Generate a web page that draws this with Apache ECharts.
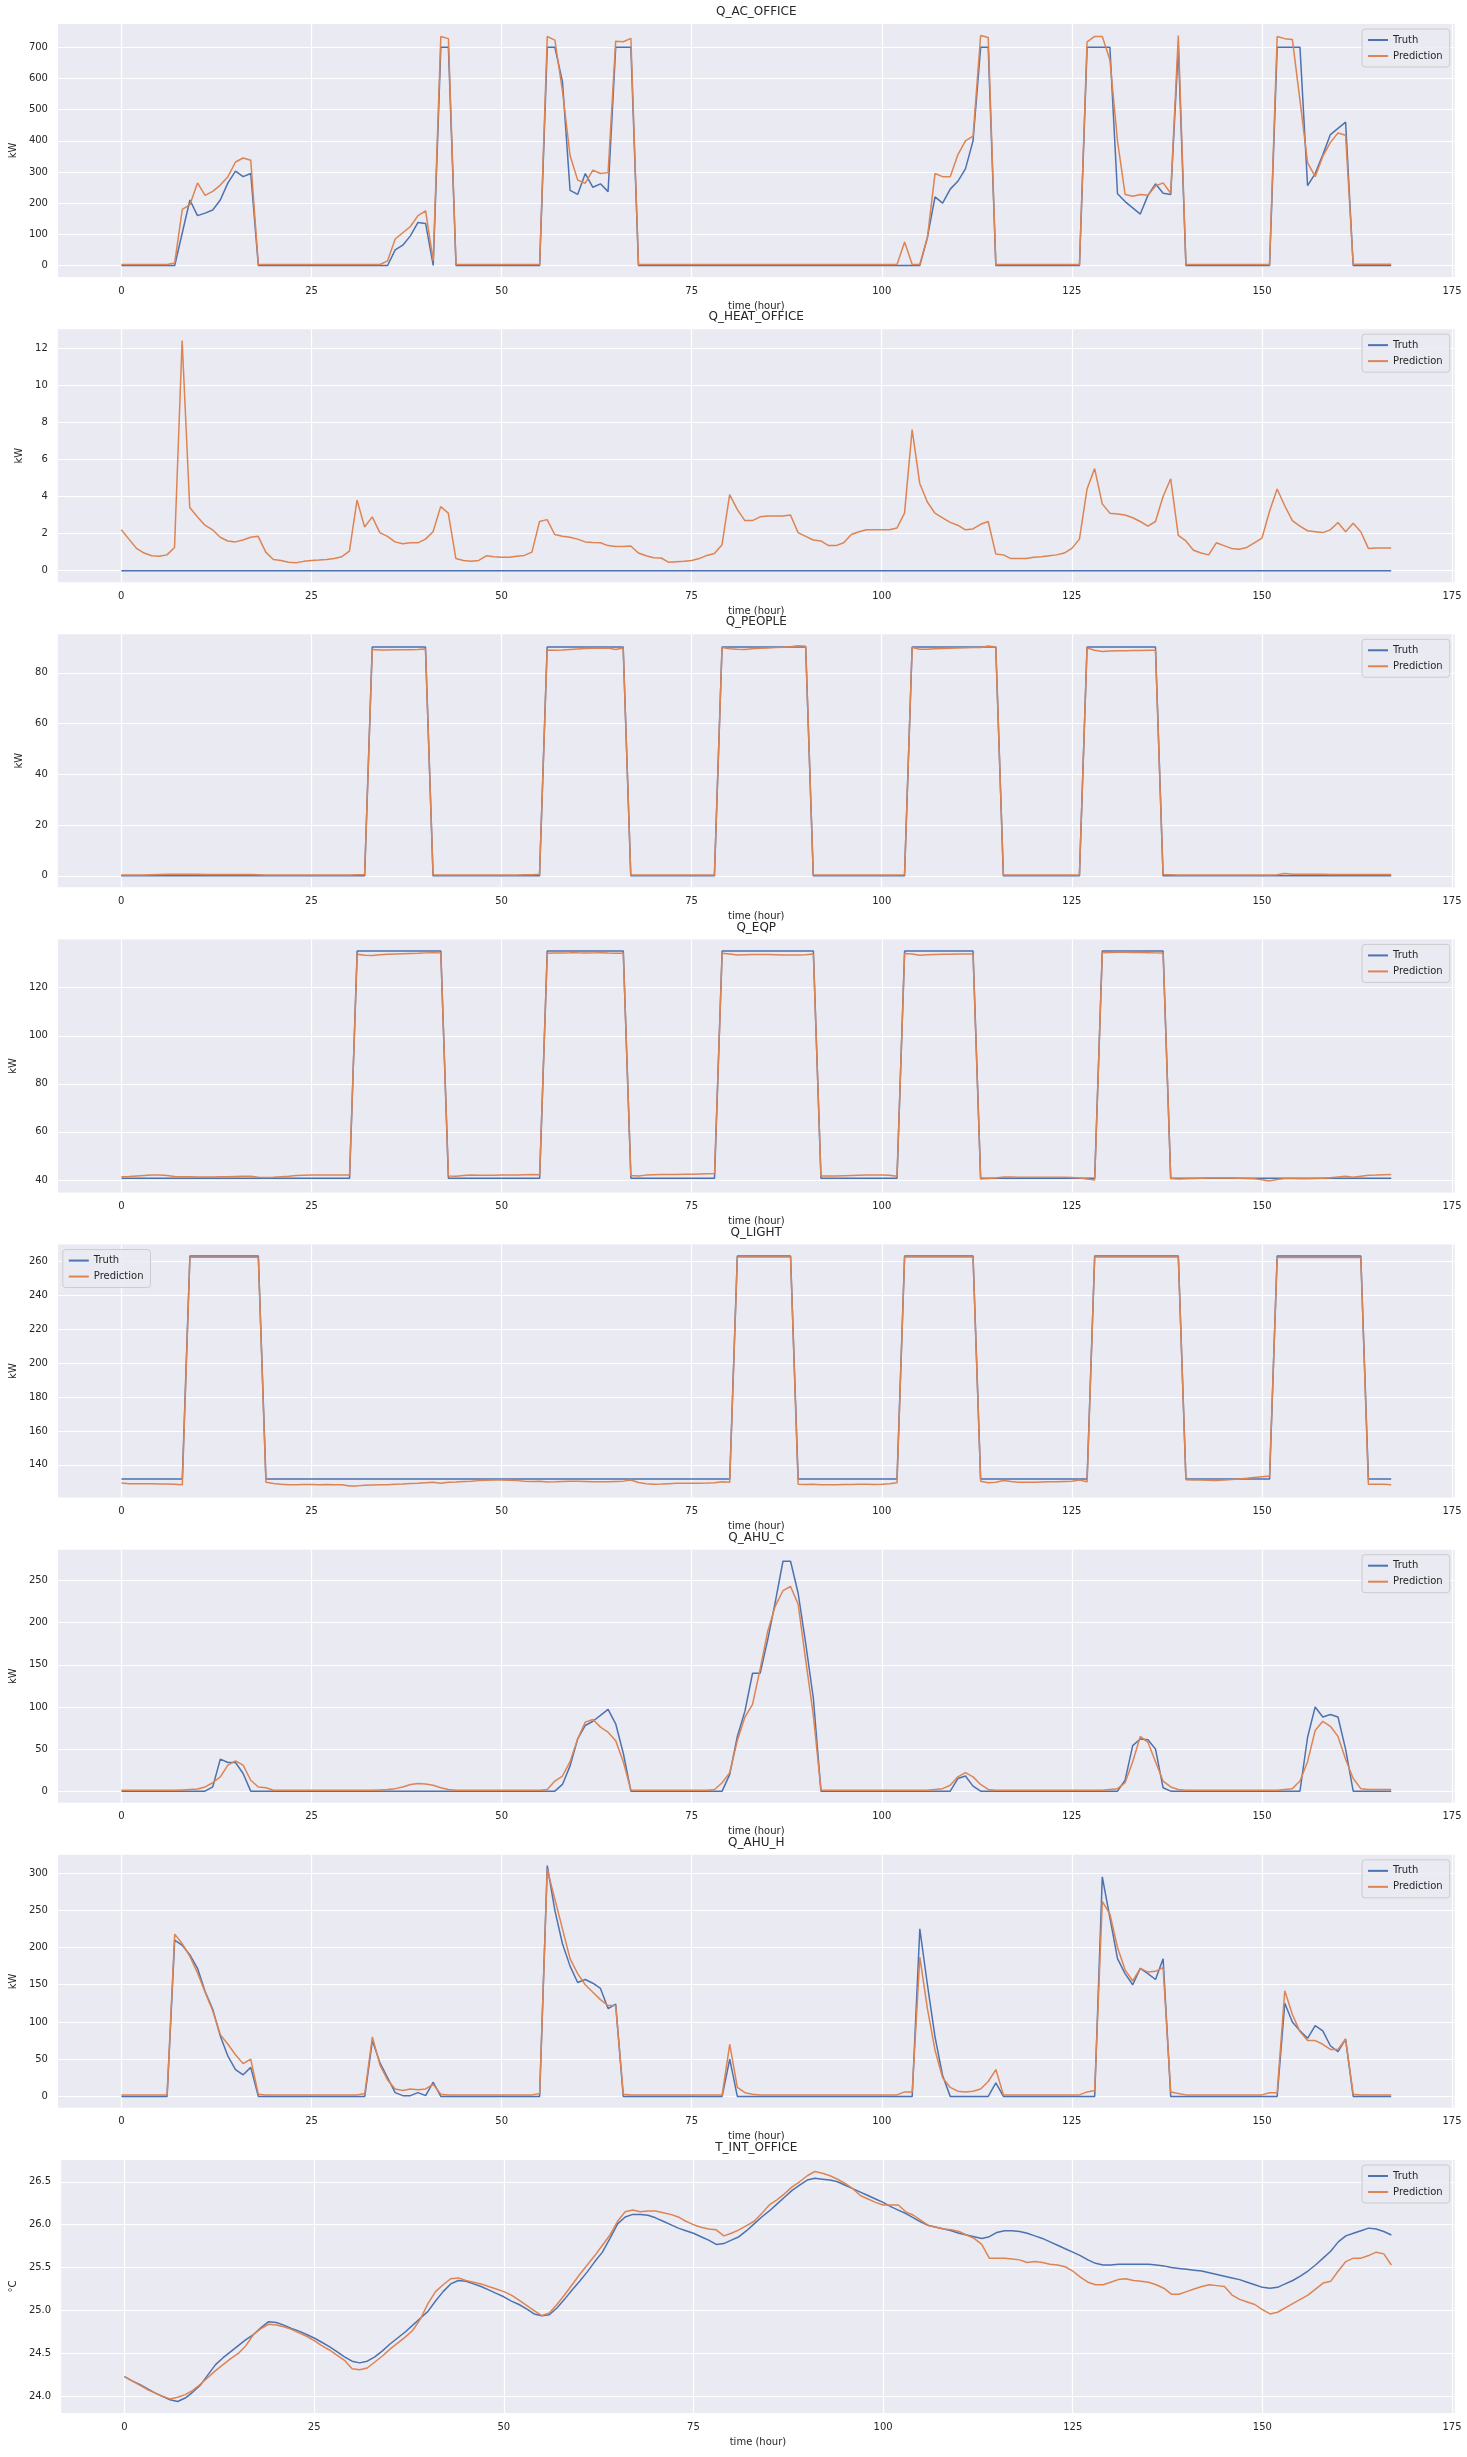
<!DOCTYPE html>
<html><head><meta charset="utf-8">
<script src="https://cdn.jsdelivr.net/npm/echarts@6/dist/echarts.min.js"></script>
<style>html,body{margin:0;padding:0;background:#fff}#c{width:1467px;height:2457px}</style>
</head><body><div id="c"></div>
<script>
// ---------- data ----------
const xTicks = [0, 25, 50, 75, 100, 125, 150, 175];

const acTruth = [
0,0,0,0,0,0,0,0,105,210,160,168,
178,210,265,303,285,295,0,0,0,0,0,0,
0,0,0,0,0,0,0,0,0,0,0,0,
50,65,95,138,135,0,700,700,0,0,0,0,
0,0,0,0,0,0,0,0,700,700,590,241,
228,295,251,262,237,700,700,700,0,0,0,0,
0,0,0,0,0,0,0,0,0,0,0,0,
0,0,0,0,0,0,0,0,0,0,0,0,
0,0,0,0,0,0,0,0,0,0,90,220,
200,245,270,310,400,700,700,0,0,0,0,0,
0,0,0,0,0,0,0,700,700,700,700,230,
205,185,165,225,262,232,228,700,0,0,0,0,
0,0,0,0,0,0,0,0,700,700,700,700,
256,295,355,420,440,460,0,0,0,0,0,0];
const acPred = [
3,3,3,3,3,3,3,8,180,195,265,225,
238,258,285,332,345,338,3,3,3,3,3,3,
3,3,3,3,3,3,3,3,3,3,3,15,
85,105,125,160,175,15,735,728,3,3,3,3,
3,3,3,3,3,3,3,3,735,723,560,353,
274,264,306,295,298,720,718,729,3,3,3,3,
3,3,3,3,3,3,3,3,3,3,3,3,
3,3,3,3,3,3,3,3,3,3,3,3,
3,3,3,3,3,3,3,75,3,3,90,295,
285,285,355,400,415,738,732,3,3,3,3,3,
3,3,3,3,3,3,3,718,735,735,660,400,
228,222,228,225,255,265,232,738,3,3,3,3,
3,3,3,3,3,3,3,3,735,728,725,530,
330,285,350,395,425,418,4,4,4,4,4,4];

const heatTruth = [
0,0,0,0,0,0,0,0,0,0,0,0,
0,0,0,0,0,0,0,0,0,0,0,0,
0,0,0,0,0,0,0,0,0,0,0,0,
0,0,0,0,0,0,0,0,0,0,0,0,
0,0,0,0,0,0,0,0,0,0,0,0,
0,0,0,0,0,0,0,0,0,0,0,0,
0,0,0,0,0,0,0,0,0,0,0,0,
0,0,0,0,0,0,0,0,0,0,0,0,
0,0,0,0,0,0,0,0,0,0,0,0,
0,0,0,0,0,0,0,0,0,0,0,0,
0,0,0,0,0,0,0,0,0,0,0,0,
0,0,0,0,0,0,0,0,0,0,0,0,
0,0,0,0,0,0,0,0,0,0,0,0,
0,0,0,0,0,0,0,0,0,0,0,0];
const heatPred = [
2.2,1.7,1.2,0.95,0.8,0.78,0.85,1.25,12.4,3.4,2.9,2.45,
2.2,1.8,1.6,1.55,1.65,1.8,1.85,1.0,0.6,0.55,0.45,0.42,
0.5,0.55,0.57,0.6,0.65,0.75,1.05,3.8,2.35,2.9,2.05,1.85,
1.55,1.45,1.5,1.5,1.7,2.1,3.45,3.1,0.65,0.55,0.5,0.55,
0.8,0.75,0.72,0.72,0.78,0.82,1.0,2.65,2.75,1.95,1.85,1.8,
1.7,1.55,1.52,1.5,1.35,1.3,1.3,1.33,0.95,0.8,0.7,0.68,
0.45,0.48,0.5,0.55,0.65,0.82,0.92,1.4,4.1,3.3,2.7,2.7,
2.9,2.95,2.95,2.95,3.0,2.05,1.85,1.65,1.6,1.35,1.35,1.5,
1.95,2.1,2.2,2.2,2.2,2.2,2.3,3.1,7.6,4.7,3.7,3.1,
2.85,2.6,2.45,2.2,2.25,2.5,2.65,0.9,0.85,0.65,0.65,0.65,
0.72,0.75,0.8,0.85,0.95,1.2,1.7,4.4,5.5,3.6,3.1,3.05,
3.0,2.85,2.65,2.4,2.65,4.0,4.95,1.9,1.6,1.1,0.95,0.85,
1.5,1.35,1.2,1.15,1.25,1.5,1.75,3.2,4.4,3.5,2.7,2.4,
2.15,2.1,2.05,2.2,2.6,2.1,2.55,2.1,1.2,1.22,1.22,1.22];

const peopleTruth = [
0,0,0,0,0,0,0,0,0,0,0,0,
0,0,0,0,0,0,0,0,0,0,0,0,
0,0,0,0,0,0,0,0,0,90.2,90.2,90.2,
90.2,90.2,90.2,90.2,90.2,0,0,0,0,0,0,0,
0,0,0,0,0,0,0,0,90.2,90.2,90.2,90.2,
90.2,90.2,90.2,90.2,90.2,90.2,90.2,0,0,0,0,0,
0,0,0,0,0,0,0,90.2,90.2,90.2,90.2,90.2,
90.2,90.2,90.2,90.2,90.2,90.2,90.2,0,0,0,0,0,
0,0,0,0,0,0,0,0,90.2,90.2,90.2,90.2,
90.2,90.2,90.2,90.2,90.2,90.2,90.2,90.2,0,0,0,0,
0,0,0,0,0,0,0,90.2,90.2,90.2,90.2,90.2,
90.2,90.2,90.2,90.2,90.2,0,0,0,0,0,0,0,
0,0,0,0,0,0,0,0,0,0,0,0,
0,0,0,0,0,0,0,0,0,0,0,0];
const peoplePred = [
0.3,0.3,0.3,0.3,0.4,0.5,0.6,0.6,0.6,0.6,0.6,0.5,
0.5,0.5,0.5,0.5,0.5,0.5,0.4,0.3,0.3,0.3,0.3,0.3,
0.3,0.3,0.3,0.3,0.3,0.3,0.3,0.4,0.5,89.2,89.0,89.0,
89.1,89.1,89.1,89.2,89.4,0.4,0.3,0.3,0.3,0.3,0.3,0.3,
0.3,0.3,0.3,0.3,0.3,0.4,0.4,0.6,89.0,88.9,89.0,89.2,
89.4,89.6,89.7,89.7,89.8,89.2,89.8,0.3,0.3,0.3,0.3,0.3,
0.3,0.3,0.3,0.3,0.3,0.3,0.3,90.0,89.5,89.3,89.2,89.5,
89.7,89.8,90.0,90.1,90.3,90.7,90.5,0.3,0.3,0.3,0.3,0.3,
0.3,0.3,0.3,0.3,0.3,0.3,0.3,0.4,90.0,89.3,89.3,89.5,
89.6,89.7,89.8,89.9,90.0,90.0,90.6,90.2,0.3,0.3,0.3,0.3,
0.3,0.3,0.3,0.3,0.3,0.3,0.3,89.8,88.9,88.4,88.6,88.7,
88.7,88.8,88.8,88.9,88.9,0.5,0.4,0.3,0.3,0.3,0.3,0.3,
0.3,0.3,0.3,0.3,0.3,0.3,0.3,0.3,0.4,0.9,0.6,0.6,
0.6,0.6,0.6,0.5,0.5,0.5,0.5,0.5,0.5,0.5,0.5,0.5];

const eqpTruth = [
40.7,40.7,40.7,40.7,40.7,40.7,40.7,40.7,40.7,40.7,40.7,40.7,
40.7,40.7,40.7,40.7,40.7,40.7,40.7,40.7,40.7,40.7,40.7,40.7,
40.7,40.7,40.7,40.7,40.7,40.7,40.7,135.3,135.3,135.3,135.3,135.3,
135.3,135.3,135.3,135.3,135.3,135.3,135.3,40.7,40.7,40.7,40.7,40.7,
40.7,40.7,40.7,40.7,40.7,40.7,40.7,40.7,135.3,135.3,135.3,135.3,
135.3,135.3,135.3,135.3,135.3,135.3,135.3,40.7,40.7,40.7,40.7,40.7,
40.7,40.7,40.7,40.7,40.7,40.7,40.7,135.3,135.3,135.3,135.3,135.3,
135.3,135.3,135.3,135.3,135.3,135.3,135.3,135.3,40.7,40.7,40.7,40.7,
40.7,40.7,40.7,40.7,40.7,40.7,40.7,135.3,135.3,135.3,135.3,135.3,
135.3,135.3,135.3,135.3,135.3,40.7,40.7,40.7,40.7,40.7,40.7,40.7,
40.7,40.7,40.7,40.7,40.7,40.7,40.7,40.7,40.7,135.3,135.3,135.3,
135.3,135.3,135.3,135.3,135.3,135.3,40.7,40.7,40.7,40.7,40.7,40.7,
40.7,40.7,40.7,40.7,40.7,40.7,40.7,40.7,40.7,40.7,40.7,40.7,
40.7,40.7,40.7,40.7,40.7,40.7,40.7,40.7,40.7,40.7,40.7,40.7];
const eqpPred = [
41.3,41.4,41.6,41.8,42.0,42.0,41.8,41.4,41.3,41.3,41.2,41.2,
41.2,41.3,41.3,41.4,41.5,41.5,41.1,41.0,41.1,41.3,41.5,41.8,
41.9,42.0,42.0,42.0,42.0,42.1,42.1,133.9,133.5,133.4,133.7,133.9,
134.0,134.1,134.2,134.3,134.5,134.6,134.5,41.6,41.5,41.8,42.0,41.9,
41.9,41.9,42.0,42.0,42.1,42.2,42.3,42.2,134.3,134.4,134.4,134.5,
134.5,134.4,134.5,134.6,134.4,134.3,134.3,41.8,41.6,42.0,42.2,42.3,
42.3,42.3,42.4,42.4,42.5,42.6,42.7,134.3,134.0,133.6,133.7,133.8,
133.8,133.8,133.7,133.6,133.6,133.6,133.7,134.0,41.6,41.6,41.6,41.7,
41.8,41.9,42.0,42.1,42.1,41.9,41.5,134.2,134.0,133.5,133.7,133.8,
133.9,133.9,134.0,134.0,134.0,40.4,40.6,40.8,41.2,41.2,41.1,41.1,
41.1,41.1,41.1,41.1,41.1,41.0,40.8,40.4,40.0,134.5,134.7,134.8,
134.8,134.7,134.7,134.6,134.5,134.4,40.6,40.4,40.5,40.6,40.7,40.8,
40.8,40.9,40.8,40.7,40.6,40.5,40.1,39.6,40.2,40.6,40.6,40.5,
40.5,40.6,40.7,40.9,41.2,41.5,41.1,41.5,41.9,42.0,42.2,42.3];

const lightTruth = [
131.6,131.6,131.6,131.6,131.6,131.6,131.6,131.6,131.6,263.3,263.3,263.3,
263.3,263.3,263.3,263.3,263.3,263.3,263.3,131.6,131.6,131.6,131.6,131.6,
131.6,131.6,131.6,131.6,131.6,131.6,131.6,131.6,131.6,131.6,131.6,131.6,
131.6,131.6,131.6,131.6,131.6,131.6,131.6,131.6,131.6,131.6,131.6,131.6,
131.6,131.6,131.6,131.6,131.6,131.6,131.6,131.6,131.6,131.6,131.6,131.6,
131.6,131.6,131.6,131.6,131.6,131.6,131.6,131.6,131.6,131.6,131.6,131.6,
131.6,131.6,131.6,131.6,131.6,131.6,131.6,131.6,131.6,263.3,263.3,263.3,
263.3,263.3,263.3,263.3,263.3,131.6,131.6,131.6,131.6,131.6,131.6,131.6,
131.6,131.6,131.6,131.6,131.6,131.6,131.6,263.3,263.3,263.3,263.3,263.3,
263.3,263.3,263.3,263.3,263.3,131.6,131.6,131.6,131.6,131.6,131.6,131.6,
131.6,131.6,131.6,131.6,131.6,131.6,131.6,131.6,263.3,263.3,263.3,263.3,
263.3,263.3,263.3,263.3,263.3,263.3,263.3,263.3,131.6,131.6,131.6,131.6,
131.6,131.6,131.6,131.6,131.6,131.6,131.6,131.6,263.3,263.3,263.3,263.3,
263.3,263.3,263.3,263.3,263.3,263.3,263.3,263.3,131.6,131.6,131.6,131.6];
const lightPred = [
129.3,128.8,128.9,128.9,128.8,128.7,128.7,128.6,128.2,262.6,262.6,262.6,
262.6,262.6,262.6,262.6,262.6,262.6,262.6,129.8,129.0,128.5,128.2,128.3,
128.4,128.4,128.3,128.4,128.3,128.2,127.5,127.6,127.9,128.1,128.2,128.3,
128.5,128.7,129.0,129.2,129.5,129.7,129.2,129.7,129.9,130.2,130.4,130.7,
130.9,131.0,131.0,130.9,130.7,130.4,130.2,130.4,129.9,130.0,130.2,130.3,
130.3,130.2,130.1,130.0,130.0,130.2,130.4,131.1,129.6,128.9,128.6,128.7,
128.9,129.1,129.1,129.2,129.2,129.3,129.5,130.0,129.7,262.7,262.7,262.7,
262.7,262.7,262.7,262.7,262.7,128.6,128.4,128.5,128.3,128.2,128.3,128.4,
128.4,128.5,128.5,128.4,128.6,128.9,129.5,262.7,262.7,262.7,262.7,262.7,
262.7,262.7,262.7,262.7,262.7,130.3,129.5,129.7,130.8,130.2,129.8,129.7,
129.8,129.9,130.0,130.1,130.2,130.3,131.0,130.0,262.7,262.7,262.7,262.7,
262.7,262.7,262.7,262.7,262.7,262.7,262.7,262.7,131.2,131.1,131.0,130.9,
130.8,131.0,131.3,131.7,132.1,132.6,133.0,133.4,262.5,262.5,262.5,262.5,
262.5,262.5,262.5,262.5,262.5,262.5,262.5,262.5,128.5,128.6,128.5,128.3];

const ahucTruth = [
0,0,0,0,0,0,0,0,0,0,0,0,
5,38,34,34,21,0,0,0,0,0,0,0,
0,0,0,0,0,0,0,0,0,0,0,0,
0,0,0,0,0,0,0,0,0,0,0,0,
0,0,0,0,0,0,0,0,0,0,8,30,
62,78,83,90,97,80,45,0,0,0,0,0,
0,0,0,0,0,0,0,0,20,65,95,140,
140,180,225,273,273,235,175,110,0,0,0,0,
0,0,0,0,0,0,0,0,0,0,0,0,
0,0,15,18,6,0,0,0,0,0,0,0,
0,0,0,0,0,0,0,0,0,0,0,0,
13,54,62,61,50,4,0,0,0,0,0,0,
0,0,0,0,0,0,0,0,0,0,0,0,
64,100,88,91,88,50,0,0,0,0,0,0];
const ahucPred = [
1,1,1,1,1,1,1,1,1.5,2,2.5,5,
10,17,31,36,31,13,5,4,1,1,1,1,
1,1,1,1,1,1,1,1,1,1,1.5,2,
3,5,8,9,8.5,7,4,2,1,1,1,1,
1,1,1,1,1,1,1,1,2,12,18,35,
62,82,85,76,70,60,35,1.5,1,1,1,1,
1,1,1,1,1,1,2,10,22,60,88,103,
145,190,220,238,243,222,155,90,1.5,1,1,1,
1,1,1,1,1,1,1,1,1,1,1,2,
3,7,17,22,17,8,2,1,1,1,1,1,
1,1,1,1,1,1,1,1,1,1,2,3,
10,35,65,58,35,12,5,2,1,1,1,1,
1,1,1,1,1,1,1,1,1,2,3,12,
35,72,83,77,65,38,15,3,2,2,2,2];

const ahuhTruth = [
0,0,0,0,0,0,0,210,203,190,172,141,
117,81,54,36,29,39,0,0,0,0,0,0,
0,0,0,0,0,0,0,0,0,75,45,25,
5,1,1,5,1,19,0,0,0,0,0,0,
0,0,0,0,0,0,0,0,310,250,205,175,
153,157,152,145,118,124,0,0,0,0,0,0,
0,0,0,0,0,0,0,0,50,0,0,0,
0,0,0,0,0,0,0,0,0,0,0,0,
0,0,0,0,0,0,0,0,0,225,150,80,
28,0,0,0,0,0,0,18,0,0,0,0,
0,0,0,0,0,0,0,0,0,295,240,185,
165,150,172,165,157,185,0,0,0,0,0,0,
0,0,0,0,0,0,0,0,0,125,100,88,
78,95,88,68,60,77,0,0,0,0,0,0];
const ahuhPred = [
2,2,2,2,2,2,2,218,205,188,166,140,
115,83,70,56,44,50,3,2,2,2,2,2,
2,2,2,2,2,2,2,2,4,80,42,22,
10,8,10,9,10,16,3,2,2,2,2,2,
2,2,2,2,2,2,2,4,305,265,225,185,
165,150,140,130,122,122,3,2,2,2,2,2,
2,2,2,2,2,2,2,2,70,12,5,3,
2,2,2,2,2,2,2,2,2,2,2,2,
2,2,2,2,2,2,2,6,6,187,118,62,
25,12,7,6,7,10,20,36,2,2,2,2,
2,2,2,2,2,2,2,6,8,262,245,200,
170,155,172,167,168,173,6,4,2,2,2,2,
2,2,2,2,2,2,2,5,5,142,110,87,
75,75,70,63,63,77,3,2,2,2,2,2];

const tintTruth = [
24.23,24.18,24.14,24.09,24.04,24.00,23.96,23.94,23.98,24.05,24.13,24.25,
24.37,24.45,24.52,24.59,24.66,24.72,24.80,24.87,24.86,24.83,24.79,24.76,
24.72,24.68,24.63,24.58,24.52,24.46,24.41,24.39,24.41,24.46,24.53,24.61,
24.68,24.75,24.83,24.91,24.99,25.11,25.22,25.31,25.35,25.34,25.31,25.28,
25.24,25.20,25.16,25.11,25.07,25.02,24.96,24.94,24.95,25.03,25.13,25.24,
25.34,25.45,25.57,25.68,25.84,26.01,26.09,26.12,26.12,26.11,26.08,26.04,
26.00,25.96,25.93,25.90,25.86,25.82,25.77,25.78,25.82,25.86,25.93,26.01,
26.09,26.16,26.24,26.32,26.40,26.46,26.52,26.54,26.53,26.52,26.50,26.46,
26.42,26.38,26.34,26.30,26.26,26.21,26.17,26.13,26.08,26.03,25.99,25.97,
25.95,25.93,25.90,25.88,25.86,25.84,25.86,25.91,25.93,25.93,25.92,25.90,
25.87,25.84,25.80,25.76,25.72,25.68,25.64,25.59,25.55,25.53,25.53,25.54,
25.54,25.54,25.54,25.54,25.53,25.52,25.50,25.49,25.48,25.47,25.46,25.44,
25.42,25.40,25.38,25.36,25.33,25.30,25.27,25.26,25.27,25.31,25.35,25.40,
25.46,25.53,25.61,25.69,25.80,25.87,25.90,25.93,25.96,25.95,25.92,25.88];
const tintPred = [
24.23,24.18,24.13,24.08,24.04,24.00,23.97,23.99,24.02,24.07,24.14,24.22,
24.30,24.37,24.44,24.50,24.59,24.72,24.79,24.84,24.83,24.81,24.78,24.74,
24.70,24.65,24.59,24.54,24.48,24.42,24.32,24.31,24.33,24.40,24.47,24.55,
24.62,24.69,24.77,24.90,25.08,25.22,25.30,25.37,25.38,25.35,25.33,25.31,
25.28,25.25,25.22,25.18,25.12,25.06,25.00,24.94,24.97,25.07,25.18,25.30,
25.42,25.53,25.64,25.76,25.88,26.04,26.15,26.17,26.15,26.16,26.16,26.14,
26.12,26.09,26.04,26.00,25.97,25.95,25.94,25.87,25.90,25.94,25.99,26.04,
26.13,26.23,26.29,26.36,26.44,26.50,26.57,26.62,26.60,26.57,26.53,26.48,
26.42,26.34,26.30,26.26,26.23,26.23,26.23,26.15,26.11,26.05,25.99,25.97,
25.95,25.94,25.92,25.88,25.84,25.77,25.61,25.61,25.61,25.60,25.59,25.56,
25.57,25.56,25.54,25.53,25.51,25.46,25.39,25.33,25.30,25.30,25.33,25.36,
25.37,25.35,25.34,25.33,25.30,25.26,25.19,25.19,25.22,25.25,25.28,25.30,
25.29,25.28,25.18,25.13,25.10,25.07,25.01,24.96,24.98,25.03,25.08,25.13,
25.18,25.25,25.32,25.34,25.46,25.57,25.61,25.61,25.64,25.68,25.66,25.53];

const acTicks = [0,100,200,300,400,500,600,700];
const heatTicks = [0,2,4,6,8,10,12];
const peopleTicks = [0,20,40,60,80];
const eqpTicks = [40,60,80,100,120];
const lightTicks = [140,160,180,200,220,240,260];
const ahucTicks = [0,50,100,150,200,250];
const ahuhTicks = [0,50,100,150,200,250,300];
const tintTicks = [24.0,24.5,25.0,25.5,26.0,26.5];

// ---------- layout / styling ----------
const panels = [
  {title:'Q_AC_OFFICE', truth:acTruth, pred:acPred, min:-37, max:775, ticks:acTicks, yName:'kW', gap:30},
  {title:'Q_HEAT_OFFICE', truth:heatTruth, pred:heatPred, min:-0.62, max:13.02, ticks:heatTicks, yName:'kW', gap:24},
  {title:'Q_PEOPLE', truth:peopleTruth, pred:peoplePred, min:-4.5, max:95.2, ticks:peopleTicks, yName:'kW', gap:24},
  {title:'Q_EQP', truth:eqpTruth, pred:eqpPred, min:34.8, max:140.1, ticks:eqpTicks, yName:'kW', gap:31},
  {title:'Q_LIGHT', truth:lightTruth, pred:lightPred, min:120.7, max:270.1, ticks:lightTicks, yName:'kW', gap:31, legendLeft:true},
  {title:'Q_AHU_C', truth:ahucTruth, pred:ahucPred, min:-13.7, max:286.7, ticks:ahucTicks, yName:'kW', gap:31},
  {title:'Q_AHU_H', truth:ahuhTruth, pred:ahuhPred, min:-15.4, max:324.5, ticks:ahuhTicks, yName:'kW', gap:31},
  {title:'T_INT_OFFICE', truth:tintTruth, pred:tintPred, min:23.806, max:26.754, ticks:tintTicks, yName:'°C', gap:37, fmt:1}
];

const FONT = 'DejaVu Sans';
const TXT = '#262626';
const GL = 57.8, GW = 1396.9, GH = 253, T0 = 24, STEP = 305.14;

const grids = [], xAxes = [], yAxes = [], series = [], titles = [], legends = [];
panels.forEach((p, k) => {
  const top = T0 + STEP * k;
  grids.push({left: GL, top: top, width: GW, height: GH, show: true,
    backgroundColor: '#EAEAF2', borderWidth: 0, containLabel: false});
  xAxes.push({type: 'value', gridIndex: k, min: -8.35, max: 175.35,
    axisLine: {show: false},
    axisTick: {show: false, customValues: xTicks},
    axisLabel: {customValues: xTicks, fontSize: 10, color: TXT, fontFamily: FONT, margin: 9},
    splitLine: {show: true, lineStyle: {color: '#ffffff', width: 1.2}},
    name: 'time (hour)', nameLocation: 'middle', nameGap: 24,
    nameTextStyle: {fontSize: 10, color: TXT, fontFamily: FONT}});
  yAxes.push({type: 'value', gridIndex: k, min: p.min, max: p.max,
    axisLine: {show: false},
    axisTick: {show: false, customValues: p.ticks},
    axisLabel: {customValues: p.ticks, fontSize: 10, color: TXT, fontFamily: FONT, margin: 10,
      formatter: p.fmt ? (v => Number(v).toFixed(1)) : (v => String(v))},
    splitLine: {show: true, lineStyle: {color: '#ffffff', width: 1.2}},
    name: p.yName, nameLocation: 'middle', nameGap: p.gap,
    nameTextStyle: {fontSize: 10, color: TXT, fontFamily: FONT}});
  const tData = p.truth.map((v, i) => [i, v]);
  const pData = p.pred.map((v, i) => [i, v]);
  series.push({name: 'Truth', type: 'line', xAxisIndex: k, yAxisIndex: k, data: tData,
    symbol: 'none', showSymbol: false, lineStyle: {color: '#4C72B0', width: 1.5},
    itemStyle: {color: '#4C72B0'}, z: 2});
  series.push({name: 'Prediction', type: 'line', xAxisIndex: k, yAxisIndex: k, data: pData,
    symbol: 'none', showSymbol: false, lineStyle: {color: '#DD8452', width: 1.5},
    itemStyle: {color: '#DD8452'}, z: 3});
  titles.push({text: p.title, left: GL + GW / 2, top: top - 18, textAlign: 'center', padding: 0,
    textStyle: {fontSize: 12, fontWeight: 'normal', color: TXT, fontFamily: FONT}});
  const lg = {data: ['Truth', 'Prediction'], orient: 'vertical', top: top + 5,
    icon: 'rect',
    backgroundColor: 'rgba(234,234,242,0.8)', borderColor: '#cccccc', borderWidth: 1, borderRadius: 3,
    padding: [5, 7, 5, 6], itemGap: 4, itemWidth: 20, itemHeight: 2, itemTextGap: 8,
    selectedMode: false,
    textStyle: {fontSize: 10, color: TXT, fontFamily: FONT, lineHeight: 12}};
  if (p.legendLeft) lg.left = GL + 5; else lg.right = 1467 - (GL + GW) + 5;
  legends.push(lg);
});

const chart = echarts.init(document.getElementById('c'), null, {renderer: 'canvas'});
chart.setOption({
  animation: false,
  backgroundColor: '#ffffff',
  textStyle: {fontFamily: FONT},
  title: titles, legend: legends, grid: grids, xAxis: xAxes, yAxis: yAxes, series: series
});
</script>
</body></html>
